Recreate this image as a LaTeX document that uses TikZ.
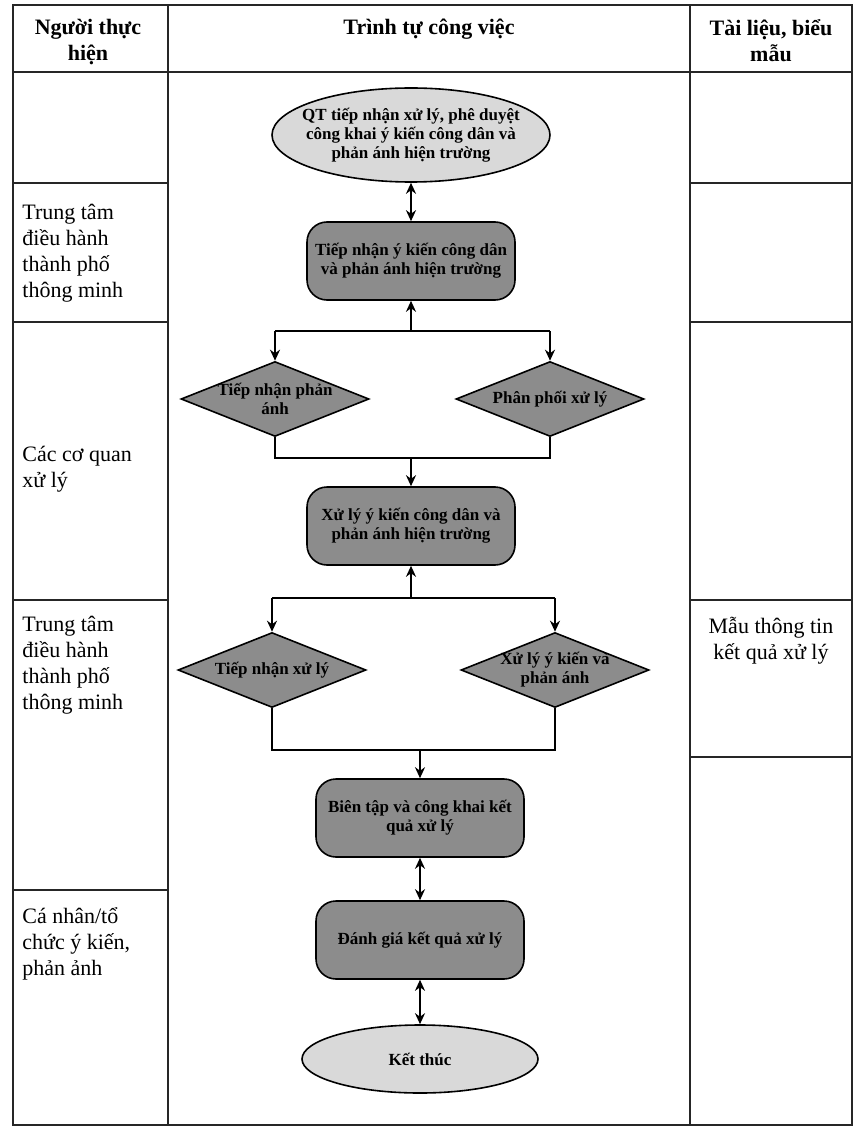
\documentclass[tikz,border=0pt]{standalone}
\usepackage{fontspec}
\setmainfont{Liberation Serif}
\usetikzlibrary{shapes.geometric,arrows.meta}
\begin{document}
\begin{tikzpicture}[x=0.5pt,y=-0.5pt,
    khung/.style={line width=0.8pt,black!85},
    chu/.style={font=\fontsize{11}{13}\selectfont,inner sep=0pt,align=left,anchor=north west},
    tieude/.style={font=\fontsize{11}{13}\selectfont\bfseries,inner sep=0pt,align=center,anchor=north},
    ten/.style={font=\fontsize{8.5}{9.5}\selectfont\bfseries,align=center,inner sep=0pt},
    buoc/.style={ten,draw,line width=0.8pt,rounded corners=10pt,fill=black!45,minimum width=104pt,minimum height=39pt},
    nhanh/.style={draw,diamond,line width=0.8pt,fill=black!45,minimum width=94pt,minimum height=37.5pt,inner sep=0pt},
    elip/.style={draw,ellipse,line width=0.8pt,fill=black!15,inner sep=0pt},
    mui/.style={line width=1.1pt,-{Stealth[length=5.5pt,width=5pt]}},
    haimui/.style={line width=1.1pt,{Stealth[length=5.5pt,width=5pt]}-{Stealth[length=5.5pt,width=5pt]}},
    noi/.style={line width=1.1pt}]
    \useasboundingbox (0,0) rectangle (864,1134);
    \def\trai{13}%mép trái
    \def\cot{168}%cột 1
    \def\cott{690}%cột 3
    \def\phai{852}%mép phải
    \def\tren{5}
    \def\duoi{1125}
    \def\tde{72}%dòng tiêu đề
    \draw[khung] (\trai,\tren) rectangle (\phai,\duoi)
        (\trai,\tde)--(\phai,\tde) (\cot,\tren)--(\cot,\duoi) (\cott,\tren)--(\cott,\duoi);
    \foreach \y in {183,322,600,890} \draw[khung] (\trai,\y)--(\cot,\y);
    \foreach \y in {183,322,600,757} \draw[khung] (\cott,\y)--(\phai,\y);
    % tiêu đề
    \node[tieude] (tdA) at (88,19) {Người thực\\hiện};
    \node[tieude] (tdB) at (429,19) {Trình tự công việc};
    \node[tieude] (tdC) at (771,19) {Tài liệu, biểu\\mẫu};
    % người thực hiện
    \node[chu] (ntA) at (22,204) {Trung tâm\\điều hành\\thành phố\\thông minh};
    \node[chu] (ntB) at (22,446) {Các cơ quan\\xử lý};
    \node[chu] (ntC) at (22,616) {Trung tâm\\điều hành\\thành phố\\thông minh};
    \node[chu] (ntD) at (22,907) {Cá nhân/tổ\\chức ý kiến,\\phản ảnh};
    \node[chu,align=center,anchor=north] (tl) at (771,617) {Mẫu thông tin\\kết quả xử lý};
    % các bước
    \node[elip,minimum width=139pt,minimum height=47pt,
        label={[ten]center:{QT tiếp nhận xử lý, phê duyệt\\công khai ý kiến công dân và\\phản ánh hiện trường}}] (bd) at (411,135) {};
    \node[buoc] (b1) at (411,261) {Tiếp nhận ý kiến công dân\\và phản ánh hiện trường};
    \node[nhanh,label={[ten]center:{Tiếp nhận phản\\ánh}}] (n1) at (275,399) {};
    \node[nhanh,label={[ten]center:{Phân phối xử lý}}] (n2) at (550,399) {};
    \node[buoc] (b2) at (411,526) {Xử lý ý kiến công dân và\\phản ánh hiện trường};
    \node[nhanh,label={[ten]center:{Tiếp nhận xử lý}}] (n3) at (272,670) {};
    \node[nhanh,label={[ten]center:{Xử lý ý kiến và\\phản ánh}}] (n4) at (555,670) {};
    \node[buoc] (b3) at (420,818) {Biên tập và công khai kết\\quả xử lý};
    \node[buoc] (b4) at (420,940) {Đánh giá kết quả xử lý};
    \node[elip,minimum width=118pt,minimum height=34pt,label={[ten]center:{Kết thúc}}] (kt) at (420,1059) {};
    \coordinate (r1) at (411,331);
    \coordinate (g1) at (411,458);
    \coordinate (r2) at (411,598);
    \coordinate (g2) at (420,750);
    % mũi tên
    \draw[haimui] (bd.south)--(b1.north);
    \draw[mui] (r1)--(b1.south);
    \draw[noi] (n1.north|-r1)--(n2.north|-r1);
    \foreach \n in {n1,n2} \draw[mui] (\n.north|-r1)--(\n.north);
    \draw[noi] (n1.south)--(n1.south|-g1)--(n2.south|-g1)--(n2.south);
    \draw[mui] (g1)--(b2.north);
    \draw[mui] (r2)--(b2.south);
    \draw[noi] (n3.north|-r2)--(n4.north|-r2);
    \foreach \n in {n3,n4} \draw[mui] (\n.north|-r2)--(\n.north);
    \draw[noi] (n3.south)--(n3.south|-g2)--(n4.south|-g2)--(n4.south);
    \draw[mui] (g2)--(b3.north);
    \draw[haimui] (b3.south)--(b4.north);
    \draw[haimui] (b4.south)--(kt.north);
\end{tikzpicture}
\end{document}
